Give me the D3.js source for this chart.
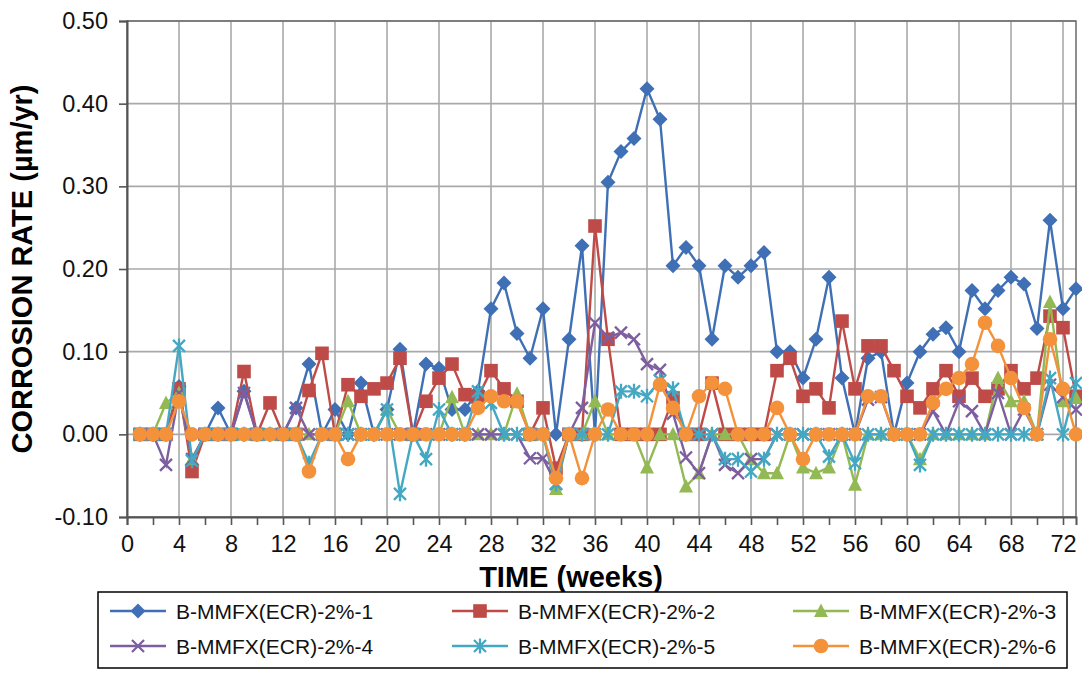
<!DOCTYPE html>
<html>
<head>
<meta charset="utf-8">
<script src="https://cdn.jsdelivr.net/npm/d3@7"></script>
<style>
  body { margin: 0; background: #fff; }
  svg { display: block; font-family: Arial, "Liberation Sans", sans-serif; }
</style>
</head>
<body>
<svg id="chart" width="1082" height="673"></svg>
<script>
// Data (weeks 1..73)
const weeks = d3.range(1, 74);
const s1 = [0, 0, 0, 0.058, -0.037, 0, 0.032, 0, 0.052, 0, 0, 0, 0.032, 0.085, 0, 0.03, 0, 0.062, 0, 0.03,
  0.103, 0, 0.085, 0.08, 0.03, 0.03, 0.052, 0.152, 0.183, 0.122, 0.092, 0.152, 0, 0.115, 0.228, 0, 0.305, 0.342, 0.358, 0.418,
  0.381, 0.204, 0.226, 0.204, 0.115, 0.204, 0.19, 0.204, 0.22, 0.10, 0.10, 0.068, 0.115, 0.19, 0.068, 0, 0.092, 0.10, 0, 0.062,
  0.10, 0.121, 0.129, 0.10, 0.174, 0.152, 0.174, 0.19, 0.182, 0.128, 0.259, 0.152, 0.176];
const s2 = [0, 0, 0, 0.055, -0.045, 0, 0, 0, 0.076, 0, 0.038, 0, 0, 0.053, 0.098, 0, 0.06, 0.046, 0.055, 0.062,
  0.092, 0, 0.04, 0.068, 0.085, 0.048, 0.045, 0.077, 0.055, 0.04, 0, 0.032, -0.041, 0, 0, 0.252, 0.115, 0, 0, 0,
  0, 0.044, 0, 0, 0.062, 0, 0, 0, 0, 0.077, 0.092, 0.046, 0.055, 0.032, 0.137, 0.055, 0.107, 0.107, 0.077, 0.046,
  0.032, 0.055, 0.077, 0.046, 0.068, 0.046, 0.055, 0.077, 0.055, 0.068, 0.143, 0.129, 0.046];
const s3 = [0, 0, 0.038, 0.05, -0.03, 0, 0, 0, 0, 0, 0, 0, 0, 0, 0, 0, 0.04, 0, 0, 0.03,
  0, 0, 0, 0, 0.045, 0, 0, 0, 0, 0.049, 0, 0, -0.066, 0, 0, 0.04, 0, 0, 0, -0.04,
  0, 0, -0.063, -0.047, 0, 0, 0, -0.03, -0.047, -0.047, 0, -0.04, -0.047, -0.04, 0, -0.061, 0, 0, 0, 0,
  -0.03, 0, 0, 0, 0, 0, 0.068, 0.04, 0.04, 0, 0.16, 0.04, 0.044];
const s4 = [0, 0, -0.037, 0.05, -0.03, 0, 0, 0, 0.05, 0, 0, 0, 0.032, 0, 0, 0, 0, 0, 0, 0,
  0, 0, 0, 0, 0, 0, 0, 0, 0, 0, -0.029, -0.029, -0.06, 0, 0.032, 0.135, 0.117, 0.123, 0.115, 0.085,
  0.078, 0.025, -0.028, -0.047, 0, -0.037, -0.047, -0.03, -0.03, 0, 0, 0, 0, 0, 0, 0, 0.042, 0.045, 0, 0,
  0, 0.028, 0, 0.04, 0.028, 0, 0.05, 0, 0.03, 0, 0.06, 0.045, 0.03];
const s5 = [0, 0, 0, 0.107, -0.032, 0, 0, 0, 0, 0, 0, 0, 0, -0.035, 0, 0, 0, 0, 0, 0.03,
  -0.072, 0, -0.03, 0.03, 0, 0, 0.052, 0.038, 0, 0, 0, 0, -0.06, 0, 0, 0, 0, 0.052, 0.052, 0.046,
  0.065, 0.055, 0, 0, 0, -0.03, -0.03, -0.045, -0.03, 0, 0, 0, 0, -0.027, 0, -0.035, 0, 0, 0, 0,
  -0.037, 0, 0, 0, 0, 0, 0, 0, 0, 0, 0.068, 0, 0.062];
const s6 = [0, 0, 0, 0.04, 0, 0, 0, 0, 0, 0, 0, 0, 0, -0.045, 0, 0, -0.03, 0, 0, 0,
  0, 0, 0, 0, 0, 0, 0.032, 0.046, 0.04, 0.04, 0, 0, -0.053, 0, -0.053, 0, 0.03, 0, 0, 0,
  0.06, 0.032, 0, 0.046, 0.062, 0.055, 0, 0, 0, 0.032, 0, -0.03, 0, 0, 0, 0, 0.046, 0.046, 0, 0,
  0, 0.038, 0.055, 0.068, 0.085, 0.135, 0.107, 0.068, 0.032, 0, 0.115, 0.055, 0];

const seriesNames = ["B-MMFX(ECR)-2%-1", "B-MMFX(ECR)-2%-2", "B-MMFX(ECR)-2%-3",
  "B-MMFX(ECR)-2%-4", "B-MMFX(ECR)-2%-5", "B-MMFX(ECR)-2%-6"];
const seriesValues = [s1, s2, s3, s4, s5, s6];
const colors = ["#3f6fb5", "#be4b48", "#93b954", "#7d5fa0", "#45a8c2", "#f3923a"];
const markers = ["diamond", "square", "triangle", "cross", "star", "circle"];
const yTicks = [-0.1, 0, 0.1, 0.2, 0.3, 0.4, 0.5];
const xTicks = d3.range(0, 74, 2);
const xLabels = d3.range(0, 73, 4);

let svg = d3.select("#chart");
svg.append("rect").attr("width", 1082).attr("height", 673).attr("fill", "#fff");

let x = d3.scaleLinear().domain([0, 73]).range([127, 1076]);
let y = d3.scaleLinear().domain([-0.1, 0.5]).range([517, 21]);

// grid
let grid = svg.append("g").attr("class", "grid");
grid.selectAll("line.h").data(yTicks).join("line")
  .attr("x1", x(0)).attr("x2", x(73))
  .attr("y1", d => y(d)).attr("y2", d => y(d))
  .attr("stroke", "#a9a9a9").attr("stroke-width", 1.6);
grid.selectAll("line.v").data(xLabels.filter(d => d > 0)).join("line")
  .attr("x1", d => x(d)).attr("x2", d => x(d))
  .attr("y1", y(0.5)).attr("y2", y(-0.1))
  .attr("stroke", "#a9a9a9").attr("stroke-width", 1.6);
svg.append("rect")
  .attr("x", x(0)).attr("y", y(0.5))
  .attr("width", x(73) - x(0)).attr("height", y(-0.1) - y(0.5))
  .attr("fill", "none").attr("stroke", "#6a6a6a").attr("stroke-width", 1.5);

// axes
let yAxis = svg.append("g").attr("transform", `translate(${x(0)},0)`)
  .call(d3.axisLeft(y).tickValues(yTicks).tickSize(8).tickPadding(11).tickFormat(d => d.toFixed(2)));
let xAxis = svg.append("g").attr("transform", `translate(0,${y(-0.1)})`)
  .call(d3.axisBottom(x).tickValues(xTicks).tickSize(8).tickPadding(10)
    .tickFormat(d => d % 4 === 0 ? d : ""));
[yAxis, xAxis].forEach(a => {
  a.select(".domain").attr("stroke", "#555").attr("stroke-width", 2);
  a.selectAll(".tick line").attr("stroke", "#555").attr("stroke-width", 1.6);
  a.selectAll("text").attr("font-size", 23.5).attr("fill", "#111")
    .attr("font-family", "Arial, 'Liberation Sans', sans-serif");
});

svg.append("text")
  .attr("transform", `translate(32,${(y(0.5) + y(-0.1)) / 2}) rotate(-90)`)
  .attr("text-anchor", "middle").attr("font-weight", "bold").attr("font-size", 29)
  .text("CORROSION RATE (µm/yr)");
svg.append("text")
  .attr("x", 571).attr("y", 587)
  .attr("text-anchor", "middle").attr("font-weight", "bold").attr("font-size", 29)
  .text("TIME (weeks)");

// marker drawing
function drawMarker(g, type, color) {
  if (type == "diamond") {
    g.append("path").attr("d", "M0,-7.5L7.5,0L0,7.5L-7.5,0Z").attr("fill", color);
  } else if (type == "square") {
    g.append("rect").attr("x", -6.8).attr("y", -6.8).attr("width", 13.6).attr("height", 13.6).attr("fill", color);
  } else if (type == "triangle") {
    g.append("path").attr("d", "M0,-7.5L7,6L-7,6Z").attr("fill", color);
  } else if (type == "cross") {
    g.append("path").attr("d", "M-6,-6L6,6M-6,6L6,-6")
      .attr("stroke", color).attr("stroke-width", 2.3).attr("fill", "none");
  } else if (type == "star") {
    g.append("path").attr("d", "M-6,-6L6,6M-6,6L6,-6M0,-7.5L0,7.5")
      .attr("stroke", color).attr("stroke-width", 2.3).attr("fill", "none");
  } else {
    g.append("circle").attr("r", 7.3).attr("fill", color);
  }
}

let line = d3.line().x((d, i) => x(weeks[i])).y(d => y(d));
let plot = svg.append("g").attr("class", "series");
seriesValues.forEach((vals, k) => {
  let g = plot.append("g");
  g.append("path").datum(vals).attr("d", line)
    .attr("fill", "none").attr("stroke", colors[k]).attr("stroke-width", 2.4);
  vals.forEach((v, i) => {
    let m = g.append("g").attr("transform", `translate(${x(weeks[i])},${y(v)})`);
    drawMarker(m, markers[k], colors[k]);
  });
});

// legend
let legend = svg.append("g").attr("class", "legend");
legend.append("rect").attr("x", 98).attr("y", 592).attr("width", 969).attr("height", 76)
  .attr("fill", "#fff").attr("stroke", "#000").attr("stroke-width", 1.5);
const legendX = [110, 452, 793];
const legendY = [611, 646];
seriesNames.forEach((name, k) => {
  let lx = legendX[k % 3], ly = legendY[Math.floor(k / 3)];
  let item = legend.append("g");
  item.append("line").attr("x1", lx).attr("x2", lx + 56).attr("y1", ly).attr("y2", ly)
    .attr("stroke", colors[k]).attr("stroke-width", 2.4);
  drawMarker(item.append("g").attr("transform", `translate(${lx + 28},${ly})`), markers[k], colors[k]);
  item.append("text").attr("x", lx + 66).attr("y", ly + 7.5)
    .attr("font-size", 21).attr("fill", "#111").text(name);
});
</script>
</body>
</html>
